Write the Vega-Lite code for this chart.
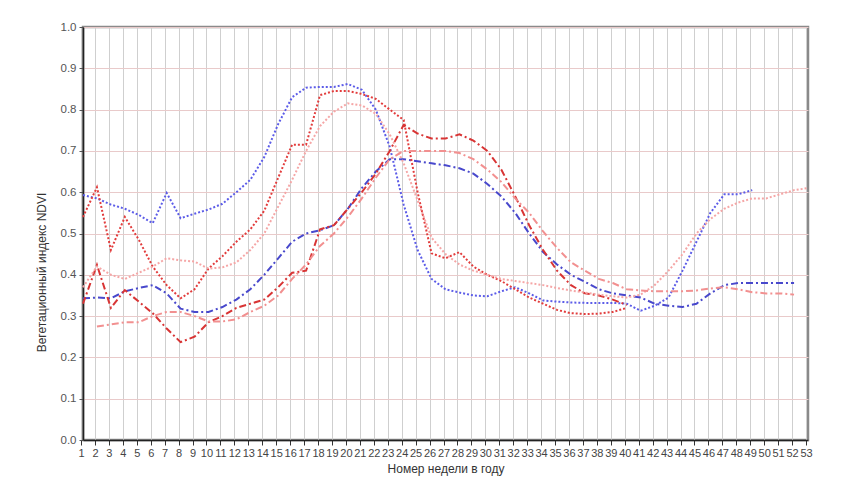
{
  "$schema": "https://vega.github.io/schema/vega-lite/v6.json",
  "autosize": {"type": "none"},
  "padding": {"left": 83, "top": 27, "right": 50, "bottom": 44},
  "width": 725,
  "height": 413,
  "background": "white",
  "config": {
    "font": "Liberation Sans",
    "view": {"stroke": "#8a8a8a", "strokeWidth": 2.5}
  },
  "data": {
    "values": [
      {"s":"B1","w":1,"v":0.593},{"s":"B1","w":2,"v":0.585},{"s":"B1","w":3,"v":0.57},{"s":"B1","w":4,"v":0.56},{"s":"B1","w":5,"v":0.545},{"s":"B1","w":6,"v":0.525},{"s":"B1","w":7,"v":0.598},{"s":"B1","w":8,"v":0.537},{"s":"B1","w":9,"v":0.548},{"s":"B1","w":10,"v":0.558},{"s":"B1","w":11,"v":0.572},{"s":"B1","w":12,"v":0.60},{"s":"B1","w":13,"v":0.63},{"s":"B1","w":14,"v":0.685},{"s":"B1","w":15,"v":0.765},{"s":"B1","w":16,"v":0.83},{"s":"B1","w":17,"v":0.853},{"s":"B1","w":18,"v":0.855},{"s":"B1","w":19,"v":0.855},{"s":"B1","w":20,"v":0.862},{"s":"B1","w":21,"v":0.848},{"s":"B1","w":22,"v":0.80},{"s":"B1","w":23,"v":0.71},{"s":"B1","w":24,"v":0.57},{"s":"B1","w":25,"v":0.46},{"s":"B1","w":26,"v":0.39},{"s":"B1","w":27,"v":0.365},{"s":"B1","w":28,"v":0.357},{"s":"B1","w":29,"v":0.35},{"s":"B1","w":30,"v":0.348},{"s":"B1","w":31,"v":0.36},{"s":"B1","w":32,"v":0.37},{"s":"B1","w":33,"v":0.355},{"s":"B1","w":34,"v":0.338},{"s":"B1","w":35,"v":0.335},{"s":"B1","w":36,"v":0.333},{"s":"B1","w":37,"v":0.332},{"s":"B1","w":38,"v":0.332},{"s":"B1","w":39,"v":0.332},{"s":"B1","w":40,"v":0.33},{"s":"B1","w":41,"v":0.313},{"s":"B1","w":42,"v":0.325},{"s":"B1","w":43,"v":0.345},{"s":"B1","w":44,"v":0.41},{"s":"B1","w":45,"v":0.48},{"s":"B1","w":46,"v":0.55},{"s":"B1","w":47,"v":0.595},{"s":"B1","w":48,"v":0.595},{"s":"B1","w":49,"v":0.605},
      {"s":"B2","w":1,"v":0.343},{"s":"B2","w":2,"v":0.345},{"s":"B2","w":3,"v":0.343},{"s":"B2","w":4,"v":0.36},{"s":"B2","w":5,"v":0.368},{"s":"B2","w":6,"v":0.375},{"s":"B2","w":7,"v":0.355},{"s":"B2","w":8,"v":0.318},{"s":"B2","w":9,"v":0.31},{"s":"B2","w":10,"v":0.31},{"s":"B2","w":11,"v":0.322},{"s":"B2","w":12,"v":0.34},{"s":"B2","w":13,"v":0.365},{"s":"B2","w":14,"v":0.40},{"s":"B2","w":15,"v":0.44},{"s":"B2","w":16,"v":0.48},{"s":"B2","w":17,"v":0.50},{"s":"B2","w":18,"v":0.508},{"s":"B2","w":19,"v":0.52},{"s":"B2","w":20,"v":0.56},{"s":"B2","w":21,"v":0.61},{"s":"B2","w":22,"v":0.65},{"s":"B2","w":23,"v":0.68},{"s":"B2","w":24,"v":0.68},{"s":"B2","w":25,"v":0.675},{"s":"B2","w":26,"v":0.67},{"s":"B2","w":27,"v":0.665},{"s":"B2","w":28,"v":0.658},{"s":"B2","w":29,"v":0.645},{"s":"B2","w":30,"v":0.62},{"s":"B2","w":31,"v":0.59},{"s":"B2","w":32,"v":0.55},{"s":"B2","w":33,"v":0.50},{"s":"B2","w":34,"v":0.455},{"s":"B2","w":35,"v":0.425},{"s":"B2","w":36,"v":0.40},{"s":"B2","w":37,"v":0.383},{"s":"B2","w":38,"v":0.365},{"s":"B2","w":39,"v":0.355},{"s":"B2","w":40,"v":0.35},{"s":"B2","w":41,"v":0.345},{"s":"B2","w":42,"v":0.33},{"s":"B2","w":43,"v":0.325},{"s":"B2","w":44,"v":0.322},{"s":"B2","w":45,"v":0.33},{"s":"B2","w":46,"v":0.355},{"s":"B2","w":47,"v":0.375},{"s":"B2","w":48,"v":0.38},{"s":"B2","w":49,"v":0.38},{"s":"B2","w":50,"v":0.38},{"s":"B2","w":51,"v":0.38},{"s":"B2","w":52,"v":0.38},
      {"s":"R1","w":1,"v":0.54},{"s":"R1","w":2,"v":0.612},{"s":"R1","w":3,"v":0.46},{"s":"R1","w":4,"v":0.54},{"s":"R1","w":5,"v":0.485},{"s":"R1","w":6,"v":0.42},{"s":"R1","w":7,"v":0.375},{"s":"R1","w":8,"v":0.343},{"s":"R1","w":9,"v":0.365},{"s":"R1","w":10,"v":0.415},{"s":"R1","w":11,"v":0.445},{"s":"R1","w":12,"v":0.48},{"s":"R1","w":13,"v":0.51},{"s":"R1","w":14,"v":0.555},{"s":"R1","w":15,"v":0.635},{"s":"R1","w":16,"v":0.715},{"s":"R1","w":17,"v":0.715},{"s":"R1","w":18,"v":0.835},{"s":"R1","w":19,"v":0.845},{"s":"R1","w":20,"v":0.845},{"s":"R1","w":21,"v":0.838},{"s":"R1","w":22,"v":0.826},{"s":"R1","w":23,"v":0.80},{"s":"R1","w":24,"v":0.775},{"s":"R1","w":25,"v":0.60},{"s":"R1","w":26,"v":0.452},{"s":"R1","w":27,"v":0.44},{"s":"R1","w":28,"v":0.455},{"s":"R1","w":29,"v":0.42},{"s":"R1","w":30,"v":0.40},{"s":"R1","w":31,"v":0.385},{"s":"R1","w":32,"v":0.365},{"s":"R1","w":33,"v":0.345},{"s":"R1","w":34,"v":0.33},{"s":"R1","w":35,"v":0.315},{"s":"R1","w":36,"v":0.307},{"s":"R1","w":37,"v":0.305},{"s":"R1","w":38,"v":0.306},{"s":"R1","w":39,"v":0.31},{"s":"R1","w":40,"v":0.32},
      {"s":"R2","w":1,"v":0.33},{"s":"R2","w":2,"v":0.424},{"s":"R2","w":3,"v":0.32},{"s":"R2","w":4,"v":0.363},{"s":"R2","w":5,"v":0.335},{"s":"R2","w":6,"v":0.307},{"s":"R2","w":7,"v":0.27},{"s":"R2","w":8,"v":0.237},{"s":"R2","w":9,"v":0.25},{"s":"R2","w":10,"v":0.285},{"s":"R2","w":11,"v":0.30},{"s":"R2","w":12,"v":0.32},{"s":"R2","w":13,"v":0.33},{"s":"R2","w":14,"v":0.34},{"s":"R2","w":15,"v":0.37},{"s":"R2","w":16,"v":0.405},{"s":"R2","w":17,"v":0.41},{"s":"R2","w":18,"v":0.51},{"s":"R2","w":19,"v":0.52},{"s":"R2","w":20,"v":0.56},{"s":"R2","w":21,"v":0.60},{"s":"R2","w":22,"v":0.645},{"s":"R2","w":23,"v":0.70},{"s":"R2","w":24,"v":0.763},{"s":"R2","w":25,"v":0.742},{"s":"R2","w":26,"v":0.73},{"s":"R2","w":27,"v":0.73},{"s":"R2","w":28,"v":0.74},{"s":"R2","w":29,"v":0.725},{"s":"R2","w":30,"v":0.70},{"s":"R2","w":31,"v":0.655},{"s":"R2","w":32,"v":0.59},{"s":"R2","w":33,"v":0.52},{"s":"R2","w":34,"v":0.46},{"s":"R2","w":35,"v":0.41},{"s":"R2","w":36,"v":0.375},{"s":"R2","w":37,"v":0.355},{"s":"R2","w":38,"v":0.35},{"s":"R2","w":39,"v":0.34},{"s":"R2","w":40,"v":0.327},
      {"s":"P1","w":1,"v":0.37},{"s":"P1","w":2,"v":0.42},{"s":"P1","w":3,"v":0.40},{"s":"P1","w":4,"v":0.39},{"s":"P1","w":5,"v":0.405},{"s":"P1","w":6,"v":0.42},{"s":"P1","w":7,"v":0.44},{"s":"P1","w":8,"v":0.435},{"s":"P1","w":9,"v":0.432},{"s":"P1","w":10,"v":0.415},{"s":"P1","w":11,"v":0.418},{"s":"P1","w":12,"v":0.43},{"s":"P1","w":13,"v":0.46},{"s":"P1","w":14,"v":0.50},{"s":"P1","w":15,"v":0.565},{"s":"P1","w":16,"v":0.63},{"s":"P1","w":17,"v":0.70},{"s":"P1","w":18,"v":0.76},{"s":"P1","w":19,"v":0.795},{"s":"P1","w":20,"v":0.815},{"s":"P1","w":21,"v":0.81},{"s":"P1","w":22,"v":0.79},{"s":"P1","w":23,"v":0.74},{"s":"P1","w":24,"v":0.67},{"s":"P1","w":25,"v":0.58},{"s":"P1","w":26,"v":0.49},{"s":"P1","w":27,"v":0.45},{"s":"P1","w":28,"v":0.425},{"s":"P1","w":29,"v":0.41},{"s":"P1","w":30,"v":0.40},{"s":"P1","w":31,"v":0.39},{"s":"P1","w":32,"v":0.385},{"s":"P1","w":33,"v":0.38},{"s":"P1","w":34,"v":0.375},{"s":"P1","w":35,"v":0.368},{"s":"P1","w":36,"v":0.362},{"s":"P1","w":37,"v":0.357},{"s":"P1","w":38,"v":0.352},{"s":"P1","w":39,"v":0.348},{"s":"P1","w":40,"v":0.345},{"s":"P1","w":41,"v":0.352},{"s":"P1","w":42,"v":0.375},{"s":"P1","w":43,"v":0.41},{"s":"P1","w":44,"v":0.45},{"s":"P1","w":45,"v":0.50},{"s":"P1","w":46,"v":0.535},{"s":"P1","w":47,"v":0.56},{"s":"P1","w":48,"v":0.575},{"s":"P1","w":49,"v":0.585},{"s":"P1","w":50,"v":0.585},{"s":"P1","w":51,"v":0.595},{"s":"P1","w":52,"v":0.605},{"s":"P1","w":53,"v":0.61},
      {"s":"P2","w":2,"v":0.275},{"s":"P2","w":3,"v":0.28},{"s":"P2","w":4,"v":0.285},{"s":"P2","w":5,"v":0.285},{"s":"P2","w":6,"v":0.30},{"s":"P2","w":7,"v":0.31},{"s":"P2","w":8,"v":0.31},{"s":"P2","w":9,"v":0.30},{"s":"P2","w":10,"v":0.287},{"s":"P2","w":11,"v":0.287},{"s":"P2","w":12,"v":0.292},{"s":"P2","w":13,"v":0.31},{"s":"P2","w":14,"v":0.325},{"s":"P2","w":15,"v":0.35},{"s":"P2","w":16,"v":0.39},{"s":"P2","w":17,"v":0.425},{"s":"P2","w":18,"v":0.47},{"s":"P2","w":19,"v":0.50},{"s":"P2","w":20,"v":0.54},{"s":"P2","w":21,"v":0.585},{"s":"P2","w":22,"v":0.635},{"s":"P2","w":23,"v":0.68},{"s":"P2","w":24,"v":0.70},{"s":"P2","w":25,"v":0.70},{"s":"P2","w":26,"v":0.70},{"s":"P2","w":27,"v":0.70},{"s":"P2","w":28,"v":0.695},{"s":"P2","w":29,"v":0.68},{"s":"P2","w":30,"v":0.655},{"s":"P2","w":31,"v":0.625},{"s":"P2","w":32,"v":0.585},{"s":"P2","w":33,"v":0.55},{"s":"P2","w":34,"v":0.505},{"s":"P2","w":35,"v":0.465},{"s":"P2","w":36,"v":0.43},{"s":"P2","w":37,"v":0.41},{"s":"P2","w":38,"v":0.39},{"s":"P2","w":39,"v":0.38},{"s":"P2","w":40,"v":0.365},{"s":"P2","w":41,"v":0.362},{"s":"P2","w":42,"v":0.36},{"s":"P2","w":43,"v":0.36},{"s":"P2","w":44,"v":0.36},{"s":"P2","w":45,"v":0.362},{"s":"P2","w":46,"v":0.367},{"s":"P2","w":47,"v":0.37},{"s":"P2","w":48,"v":0.365},{"s":"P2","w":49,"v":0.358},{"s":"P2","w":50,"v":0.355},{"s":"P2","w":51,"v":0.355},{"s":"P2","w":52,"v":0.352}
    ]
  },
  "mark": {"type": "line", "strokeWidth": 2, "interpolate": "linear"},
  "encoding": {
    "x": {
      "field": "w", "type": "quantitative",
      "scale": {"domain": [1, 53], "nice": false, "zero": false},
      "axis": {
        "title": "Номер недели в году",
        "titleFont": "Liberation Sans", "titleFontSize": 12, "titleFontWeight": "normal", "titleColor": "#333",
        "titlePadding": 5,
        "values": [1,2,3,4,5,6,7,8,9,10,11,12,13,14,15,16,17,18,19,20,21,22,23,24,25,26,27,28,29,30,31,32,33,34,35,36,37,38,39,40,41,42,43,44,45,46,47,48,49,50,51,52,53],
        "labelOverlap": false, "labelFlush": false, "labelFontSize": 11, "labelColor": "#444", "labelPadding": 2,
        "tickSize": 5, "tickColor": "#333", "tickOffset": -2,
        "domainColor": "#222", "domainWidth": 1.5,
        "grid": true, "gridColor": "#cfcfcf", "gridWidth": 1
      }
    },
    "y": {
      "field": "v", "type": "quantitative",
      "scale": {"domain": [0, 1], "nice": false},
      "axis": {
        "title": "Вегетационный индекс NDVI",
        "titleFont": "Liberation Sans", "titleFontSize": 12, "titleFontWeight": "normal", "titleColor": "#333",
        "titlePadding": 12, "titleY": 245,
        "values": [0,0.1,0.2,0.3,0.4,0.5,0.6,0.7,0.8,0.9,1.0],
        "format": ".1f", "labelFontSize": 11.5, "labelColor": "#555", "labelPadding": 3,
        "tickSize": 4, "tickColor": "#555",
        "domainColor": "#222", "domainWidth": 1.5,
        "grid": true, "gridColor": "#e9caca", "gridWidth": 1
      }
    },
    "color": {
      "field": "s", "type": "nominal", "legend": null,
      "scale": {"domain": ["B1","B2","R1","R2","P1","P2"], "range": ["#5c5ce8","#4848cc","#e23c3c","#d83434","#f5a6a6","#f29090"]}
    },
    "strokeDash": {
      "field": "s", "type": "nominal", "legend": null,
      "scale": {"domain": ["B1","B2","R1","R2","P1","P2"], "range": [[2,2],[7,3,2,3],[2,2],[7,3,2,3],[2,2],[7,3,2,3]]}
    },
    "detail": {"field": "s"}
  }
}
